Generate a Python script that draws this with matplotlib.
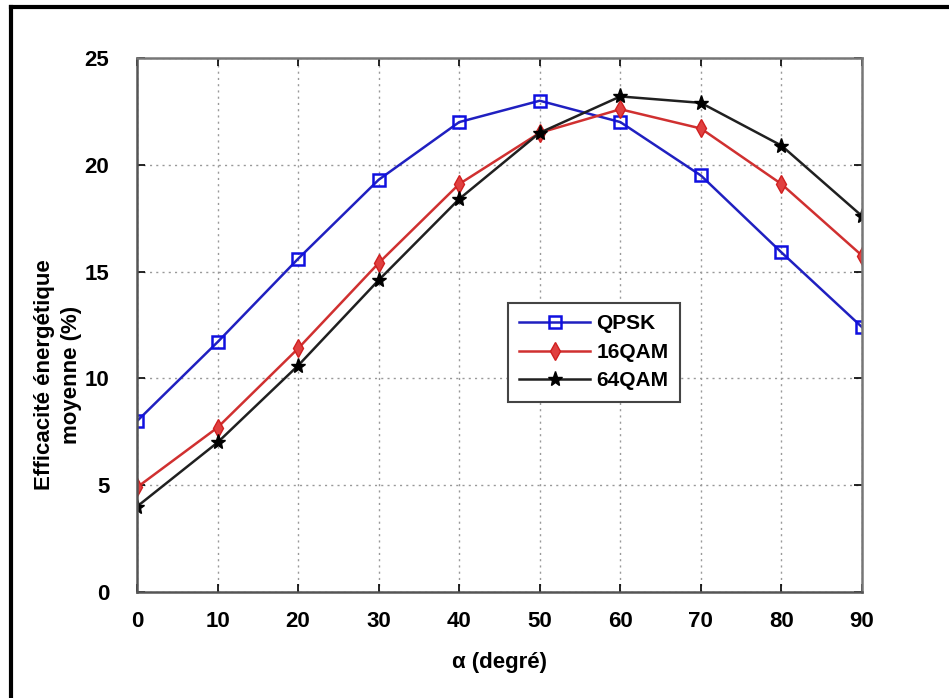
import matplotlib
matplotlib.use("Agg")
import matplotlib.pyplot as plt
from matplotlib.lines import Line2D

angles = [0, 10, 20, 30, 40, 50, 60, 70, 80, 90]
qpsk = [8.0, 11.7, 15.6, 19.3, 22.0, 23.0, 22.0, 19.5, 15.9, 12.4]
qam16 = [4.9, 7.7, 11.4, 15.4, 19.1, 21.5, 22.6, 21.7, 19.1, 15.75]
qam64 = [4.0, 7.0, 10.6, 14.6, 18.4, 21.5, 23.2, 22.9, 20.9, 17.6]
series_labels = ["QPSK", "16QAM", "64QAM"]
xticks = [0, 10, 20, 30, 40, 50, 60, 70, 80, 90]
yticks = [0, 5, 10, 15, 20, 25]

plt.rcParams['font.family'] = ['Liberation Sans', 'DejaVu Sans']

W, H = 949, 698
fig = plt.figure(figsize=(W / 100, H / 100), dpi=100)
ax = fig.add_axes([137 / W, 1 - 592 / H, (862 - 137) / W, (592 - 58) / H])

ax.plot(angles, qpsk, color='#2020c0', marker='s', markersize=9, markerfacecolor='none',
        markeredgecolor='#1010e0', markeredgewidth=1.8, linewidth=1.8, label=series_labels[0])
ax.plot(angles, qam16, color='#d03030', marker='d', markersize=9, markerfacecolor='#e04040',
        markeredgecolor='#d02020', linewidth=1.8, label=series_labels[1])
ax.plot(angles, qam64, color='#202020', marker='*', markersize=11, markerfacecolor='black',
        markeredgecolor='black', linewidth=1.8, label=series_labels[2])

ax.set_xlim(0, 90)
ax.set_ylim(0, 25)
ax.set_xticks(xticks)
ax.set_yticks(yticks)
ax.set_xticklabels([str(v) for v in xticks], fontsize=16, fontweight='bold')
ax.set_yticklabels([str(v) for v in yticks], fontsize=16, fontweight='bold')
ax.tick_params(axis='x', direction='in', length=6, top=True, pad=14, width=1.2)
ax.tick_params(axis='y', direction='in', length=6, right=True, pad=20, width=1.2)
ax.grid(True, linestyle=(0, (1.5, 3)), color='#999999', linewidth=1.0)
for side in ['top', 'right']:
    ax.spines[side].set_color('#777777')
for side in ['left', 'bottom']:
    ax.spines[side].set_color('#555555')
for s in ax.spines.values():
    s.set_linewidth(1.8)

ax.set_xlabel("α (degré)", fontsize=16, fontweight='bold')
ax.xaxis.set_label_coords(0.5, 1 - (652 - 58) / (592 - 58))
ax.set_ylabel("Efficacité énergétique\nmoyenne (%)", fontsize=16, fontweight='bold',
              linespacing=1.4)
ax.yaxis.set_label_coords((82 - 137) / (862 - 137), 1 - (375 - 58) / (592 - 58))

leg = ax.legend(loc='upper left', bbox_to_anchor=((508 - 137) / (862 - 137), 1 - (303 - 58) / (592 - 58)),
                prop={'weight': 'bold', 'size': 15}, fancybox=False, framealpha=1,
                edgecolor='#444444', borderpad=0.55, handlelength=3.4, labelspacing=0.45,
                borderaxespad=0, handletextpad=0.3)
leg.get_frame().set_linewidth(1.5)

# figure border (top and left lines)
fig.add_artist(Line2D([11 / W, 1], [1 - 7 / H, 1 - 7 / H], color='black', linewidth=3, transform=fig.transFigure))
fig.add_artist(Line2D([11 / W, 11 / W], [0, 1 - 7 / H], color='black', linewidth=3, transform=fig.transFigure))

fig.savefig("out.png", dpi=100)
